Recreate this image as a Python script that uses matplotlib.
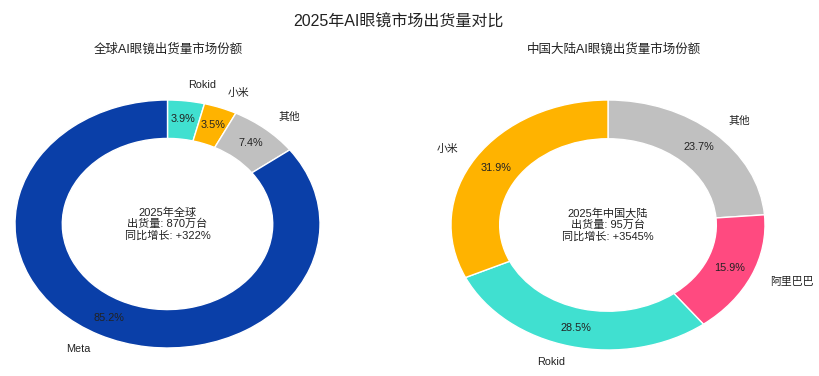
import matplotlib
matplotlib.use("Agg")
import matplotlib.pyplot as plt

plt.rcParams['font.family'] = ['Liberation Sans', 'Noto Sans CJK SC', 'DejaVu Sans']

# 全球
global_labels = ['Rokid', '小米', '其他', 'Meta']
global_values = [3.9, 3.5, 7.4, 85.2]
global_colors = ['#40e0d0', '#ffb300', '#c0c0c0', '#0a3fa8']
global_center = '2025年全球\n出货量: 870万台\n同比增长: +322%'

# 中国大陆
china_labels = ['其他', '阿里巴巴', 'Rokid', '小米']
china_values = [23.7, 15.9, 28.5, 31.9]
china_colors = ['#c0c0c0', '#ff4a80', '#40e0d0', '#ffb300']
china_center = '2025年中国大陆\n出货量: 95万台\n同比增长: +3545%'

W, H = 819, 376
fig = plt.figure(figsize=(W / 100, H / 100), dpi=100)

fig.text(398 / W, 1 - 22 / H, '2025年AI眼镜市场出货量对比', ha='center', va='center',
         fontsize=11.5, color='#222222')


def donut(box, labels, values, colors, center, title, title_x):
    ax = fig.add_axes([box[0] / W, 1 - (box[1] + box[3]) / H, box[2] / W, box[3] / H])
    ax.pie(values, labels=labels, colors=colors, startangle=90, counterclock=False,
           autopct='%.1f%%', pctdistance=0.85, labeldistance=1.13,
           wedgeprops=dict(width=0.31, edgecolor='white', linewidth=1),
           textprops=dict(fontsize=7.8, color='#222222'))
    ax.set_aspect('auto')
    ax.set_xlim(-1, 1)
    ax.set_ylim(-1, 1)
    ax.axis('off')
    ax.text(0, 0, center, ha='center', va='center', fontsize=8,
            color='#222222', linespacing=1.15)
    fig.text(title_x / W, 1 - 50 / H, title, ha='center', va='center',
             fontsize=9, color='#222222')


donut([15, 100, 305, 248], global_labels, global_values, global_colors,
      global_center, '全球AI眼镜出货量市场份额', 168)
donut([451, 100, 314, 250], china_labels, china_values, china_colors,
      china_center, '中国大陆AI眼镜出货量市场份额', 614)

fig.savefig('out.png', dpi=100)
